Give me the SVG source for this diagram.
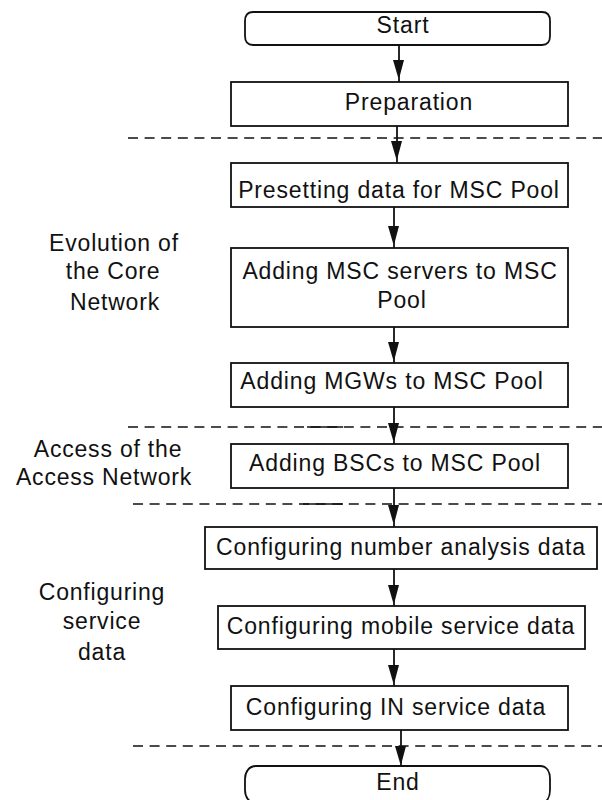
<svg xmlns="http://www.w3.org/2000/svg" xmlns:xlink="http://www.w3.org/1999/xlink" width="602" height="800" viewBox="0 0 602 800">
  <style>
    .box { fill: #fff; stroke: #111; stroke-width: 1.8; }
    .term { fill: #fff; stroke: #111; stroke-width: 1.8; }
    .lbl { font-family: "Liberation Sans", Arial, sans-serif; font-size: 23px; letter-spacing: 0.85px; fill: #111; text-anchor: middle; }
    .side { font-family: "Liberation Sans", Arial, sans-serif; font-size: 23px; letter-spacing: 0.8px; fill: #111; text-anchor: middle; }
    .sep { stroke: #111; stroke-width: 1.6; stroke-dasharray: 10 6.6; fill: none; }
    .sepsolid { stroke: #111; stroke-width: 1.6; fill: none; }
    .flow { stroke: #111; stroke-width: 1.8; fill: none; }
    .head { fill: #111; }
  </style>
  <defs>
    <!-- down-pointing arrowhead, tip at the origin -->
    <path id="ah" class="head" d="M-6,-17 L5,-17 L0.5,0 L-1,0 Z"/>
  </defs>

  <rect width="602" height="800" fill="#fff"/>

  <!-- phase separators -->
  <g id="separators">
    <line class="sep" x1="128" y1="138" x2="602" y2="138"/>
    <line class="sep" x1="128" y1="427" x2="602" y2="427"/>
    <line class="sepsolid" x1="307" y1="427" x2="343" y2="427"/>
    <line class="sep" x1="133" y1="504" x2="602" y2="504"/>
    <line class="sepsolid" x1="303" y1="504" x2="343" y2="504"/>
    <line class="sep" x1="133" y1="746" x2="602" y2="746"/>
  </g>

  <!-- phase labels -->
  <g id="phase-core">
    <text class="side" x="114" y="251">Evolution of</text>
    <text class="side" x="113" y="279">the Core</text>
    <text class="side" x="115" y="310">Network</text>
  </g>
  <g id="phase-access">
    <text class="side" x="108" y="457">Access of the</text>
    <text class="side" x="104" y="485">Access Network</text>
  </g>
  <g id="phase-service">
    <text class="side" x="102" y="600">Configuring</text>
    <text class="side" x="102" y="629">service</text>
    <text class="side" x="102" y="660">data</text>
  </g>

  <!-- connectors -->
  <g id="connectors">
    <line class="flow" x1="399" y1="45" x2="399" y2="82"/>
    <use xlink:href="#ah" x="399" y="77"/>
    <line class="flow" x1="397" y1="126" x2="397" y2="163"/>
    <use xlink:href="#ah" x="397" y="158"/>
    <line class="flow" x1="394" y1="207" x2="394" y2="248"/>
    <use xlink:href="#ah" x="394" y="243"/>
    <line class="flow" x1="394" y1="327" x2="394" y2="363"/>
    <use xlink:href="#ah" x="394" y="359"/>
    <line class="flow" x1="394" y1="407" x2="394" y2="444"/>
    <use xlink:href="#ah" x="394" y="440"/>
    <line class="flow" x1="394" y1="488" x2="394" y2="527"/>
    <use xlink:href="#ah" x="394" y="522"/>
    <line class="flow" x1="394" y1="569" x2="394" y2="606"/>
    <use xlink:href="#ah" x="394" y="602"/>
    <line class="flow" x1="394" y1="649" x2="394" y2="686"/>
    <use xlink:href="#ah" x="394" y="682"/>
    <line class="flow" x1="401" y1="730" x2="401" y2="766"/>
    <use xlink:href="#ah" x="401" y="763"/>
  </g>

  <!-- nodes -->
  <g id="start">
    <path class="term" d="M253,12 H542 C548,12 550,16 550,21 V36 C550,41 548,45 542,45 H253 C247,45 245,41 245,36 V21 C245,16 247,12 253,12 Z"/>
    <text class="lbl" x="403" y="33">Start</text>
  </g>
  <g id="preparation">
    <rect class="box" x="231" y="82" width="337" height="44"/>
    <text class="lbl" x="409" y="110">Preparation</text>
  </g>
  <g id="presetting">
    <rect class="box" x="231" y="163" width="337" height="44"/>
    <text class="lbl" x="399" y="198">Presetting data for MSC Pool</text>
  </g>
  <g id="add-msc">
    <rect class="box" x="231" y="248" width="337" height="79"/>
    <text class="lbl" x="400" y="279">Adding MSC servers to MSC</text>
    <text class="lbl" x="402" y="308">Pool</text>
  </g>
  <g id="add-mgw">
    <rect class="box" x="231" y="363" width="337" height="44"/>
    <text class="lbl" x="392" y="389">Adding MGWs to MSC Pool</text>
  </g>
  <g id="add-bsc">
    <rect class="box" x="231" y="444" width="337" height="44"/>
    <text class="lbl" x="395" y="471">Adding BSCs to MSC Pool</text>
  </g>
  <g id="number-analysis">
    <rect class="box" x="205" y="527" width="392" height="42"/>
    <text class="lbl" x="401" y="555">Configuring number analysis data</text>
  </g>
  <g id="mobile-service">
    <rect class="box" x="218" y="606" width="367" height="43"/>
    <text class="lbl" x="401" y="634">Configuring mobile service data</text>
  </g>
  <g id="in-service">
    <rect class="box" x="231" y="686" width="337" height="44"/>
    <text class="lbl" x="396" y="715">Configuring IN service data</text>
  </g>
  <g id="end">
    <path class="term" d="M256,766 H540 C547,766 550,772 550,779 V790 C550,797 547,803 540,803 H256 C249,803 245,797 245,790 V779 C245,772 249,766 256,766 Z"/>
    <text class="lbl" x="398" y="790">End</text>
  </g>
</svg>
